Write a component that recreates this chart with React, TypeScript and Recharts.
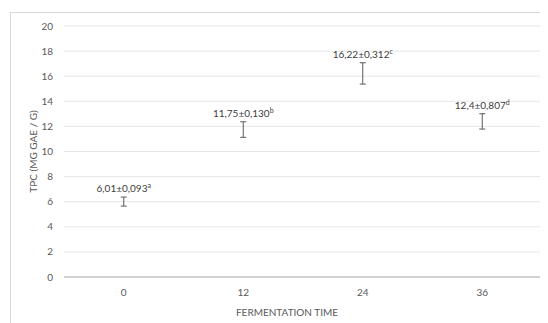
import React from 'react';
import { ComposedChart, Line, XAxis, YAxis, CartesianGrid, ErrorBar, LabelList } from 'recharts';

const categories = ['0', '12', '24', '36'];
const means = [6.01, 11.75, 16.22, 12.4];
const errors = [0.36, 0.62, 0.85, 0.61];
const meanLabels = ['6,01', '11,75', '16,22', '12,4'];
const sdLabels = ['0,093', '0,130', '0,312', '0,807'];
const letters = ['a', 'b', 'c', 'd'];
const yTicks = [0, 2, 4, 6, 8, 10, 12, 14, 16, 18, 20];

const data = categories.map((c, i) => ({
  time: c,
  mean: means[i],
  err: errors[i],
  top: means[i] + errors[i],
}));

const FONT = 'Lato, "Open Sans", sans-serif';

const renderLabel = (props: any) => {
  const { x, y, index } = props;
  return (
    <text x={x} y={y - 5} textAnchor="middle" fontFamily={FONT} fontSize={10} fill="#404040">
      {meanLabels[index]}±{sdLabels[index]}
      <tspan dy={-4} fontSize={7}>{letters[index]}</tspan>
    </text>
  );
};

export default function App() {
  return (
    <div style={{ position: 'relative', width: 540, height: 315, overflow: 'hidden', fontFamily: FONT }}>
      <div
        style={{
          position: 'absolute',
          left: 2,
          top: 4,
          width: 700,
          height: 500,
          borderLeft: '1px solid #d9d9d9',
          borderTop: '1px solid #d9d9d9',
        }}
      />
      <ComposedChart
        width={540}
        height={315}
        data={data}
        margin={{ top: 18, right: 6, left: 0, bottom: 0 }}
        style={{ position: 'absolute', left: 0, top: 0 }}
      >
        <CartesianGrid vertical={false} stroke="#e6e6e6" />
        <XAxis
          dataKey="time"
          scale="band"
          height={46}
          tickLine={false}
          tickSize={0}
          tickMargin={12}
          axisLine={{ stroke: '#c6c6c6', strokeWidth: 1.5 }}
          tick={{ fill: '#595959', fontSize: 10, fontFamily: FONT }}
          label={{
            value: 'FERMENTATION TIME',
            position: 'insideBottom',
            offset: 7,
            dx: -16,
            fill: '#595959',
            fontSize: 10,
            fontFamily: FONT,
          }}
        />
        <YAxis
          width={56}
          domain={[0, 20]}
          ticks={yTicks}
          interval={0}
          tickLine={false}
          axisLine={false}
          tickSize={0}
          tickMargin={11}
          tick={{ fill: '#595959', fontSize: 10, fontFamily: FONT }}
          label={{
            value: 'TPC (MG GAE / G)',
            angle: -90,
            position: 'insideLeft',
            offset: 25,
            fill: '#595959',
            fontSize: 10,
            fontFamily: FONT,
            style: { textAnchor: 'middle' },
          }}
        />
        <Line dataKey="mean" stroke="none" dot={false} activeDot={false} isAnimationActive={false}>
          <ErrorBar dataKey="err" direction="y" width={3} stroke="#595959" strokeWidth={1} />
        </Line>
        <Line dataKey="top" stroke="none" dot={false} activeDot={false} isAnimationActive={false}>
          <LabelList dataKey="top" content={renderLabel} />
        </Line>
      </ComposedChart>
    </div>
  );
}
